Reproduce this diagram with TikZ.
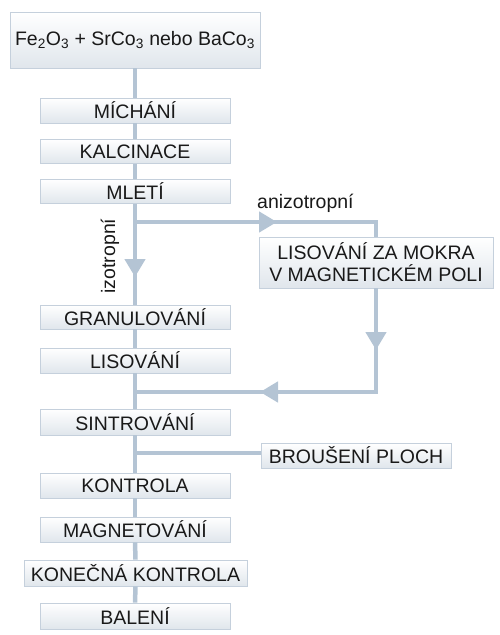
\documentclass[tikz,border=0pt]{standalone}
\usepackage{fontspec}
\setmainfont{Liberation Sans}
\usetikzlibrary{arrows.meta}
\definecolor{lnc}{HTML}{B4C4D4}
\definecolor{bdc}{HTML}{C5D0DC}
\definecolor{botc}{HTML}{E0E6EC}
\begin{document}
\begin{tikzpicture}[x=1pt,y=-1pt,
  pbox/.style={draw=bdc, line width=0.8pt, top color=white, bottom color=botc,
    inner sep=0pt, minimum height=25pt, font=\fontsize{19.5}{22}\selectfont,
    text=black!90, align=center},
  conn/.style={draw=lnc, line width=4.5pt},
  tipx/.style={-{Triangle[width=20pt,length=18pt]}},
  lbl/.style={font=\fontsize{19.5}{22}\selectfont, text=black!90, inner sep=0pt}]
\useasboundingbox (0,0) rectangle (500,635);
% nodes
\node[pbox, minimum width=250pt, minimum height=56pt] (src) at (135,40)
  {Fe\textsubscript{2}O\textsubscript{3} + SrCo\textsubscript{3} nebo BaCo\textsubscript{3}};
\node[pbox, minimum width=190pt] (mich) at (135,110.5) {MÍCHÁNÍ};
\node[pbox, minimum width=190pt, minimum height=24pt] (kalc) at (135,151.5) {KALCINACE};
\node[pbox, minimum width=190pt, minimum height=24pt] (mleti) at (135,191.5) {MLETÍ};
\node[pbox, minimum width=234pt, minimum height=51pt] (lm) at (376,262.5)
  {LISOVÁNÍ ZA MOKRA\\V MAGNETICKÉM POLI};
\node[pbox, minimum width=190pt, minimum height=24pt] (gran) at (135,317) {GRANULOVÁNÍ};
\node[pbox, minimum width=190pt] (lis) at (135,360.5) {LISOVÁNÍ};
\node[pbox, minimum width=190pt, minimum height=26pt] (sint) at (135,422) {SINTROVÁNÍ};
\node[pbox, minimum width=190pt] (brous) at (356,455.5) {BROUŠENÍ PLOCH};
\node[pbox, minimum width=190pt] (kontr) at (135,485.5) {KONTROLA};
\node[pbox, minimum width=190pt] (magn) at (135,529.5) {MAGNETOVÁNÍ};
\node[pbox, minimum width=223pt, minimum height=26pt] (konec) at (135.5,573) {KONEČNÁ KONTROLA};
\node[pbox, minimum width=190pt, minimum height=26pt] (bal) at (135,616) {BALENÍ};
% labels
\node[lbl, anchor=base west] (aniz) at (257,208) {anizotropní};
\node[lbl, rotate=90, anchor=base] (izot) at (115,256) {izotropní};
% coordinates
\coordinate (ab) at (135,222);
\coordinate (ar) at (277,222);
\coordinate (ars) at (270,222);
\coordinate (ad) at (135,277);
\coordinate (ads) at (135,270);
\coordinate (rd) at (376,350);
\coordinate (rds) at (376,343);
\coordinate (bl) at (260,392);
\coordinate (bls) at (267,392);
\coordinate (cb) at (135,392);
\coordinate (bb) at (135,453);
% connectors
\draw[conn] (src.south) -- (mich.north);
\draw[conn] (mich.south) -- (kalc.north);
\draw[conn] (kalc.south) -- (mleti.north);
\draw[conn,tipx] (mleti.south) -- (ad);
\draw[conn] (ads) -- (gran.north);
\draw[conn,tipx] (ab) -- (ar);
\draw[conn] (ars) -| (lm.north);
\draw[conn,tipx] (lm.south) -- (rd);
\draw[conn,tipx] (rds) |- (bl);
\draw[conn] (bls) -- (cb);
\draw[conn] (gran.south) -- (lis.north);
\draw[conn] (lis.south) -- (sint.north);
\draw[conn] (sint.south) -- (kontr.north);
\draw[conn] (bb) -- (bb -| brous.west);
\draw[conn] (kontr.south) -- (magn.north);
\draw[conn] (magn.south) -- (konec.north);
\draw[conn] (konec.south) -- (bal.north);
\end{tikzpicture}
\end{document}
